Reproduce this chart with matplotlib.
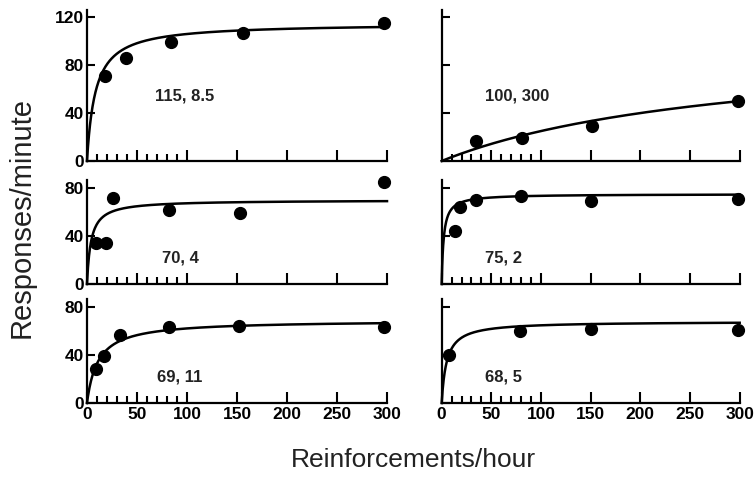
import numpy as np
import matplotlib
matplotlib.use("Agg")
import matplotlib.pyplot as plt

plt.rcParams['font.family'] = ['Liberation Sans', 'DejaVu Sans']

# Panel order: top-left, top-right, mid-left, mid-right, bottom-left, bottom-right
# fitted parameters (k, re) shown in each panel
k_vals = [115, 100, 70, 75, 69, 68]
re_vals = [8.5, 300, 4, 2, 11, 5]
labels = ["115, 8.5", "100, 300", "70, 4", "75, 2", "69, 11", "68, 5"]

# observed points (reinforcements/hour, responses/minute)
x_pts = [
    [18, 39, 84, 156, 297],
    [35, 81, 151, 298],
    [9, 19, 26, 82, 153, 297],
    [13, 18, 35, 80, 150, 298],
    [9, 17, 33, 82, 152, 297],
    [7, 79, 150, 298],
]
y_pts = [
    [71, 86, 99, 107, 115],
    [17, 19, 29, 50],
    [34, 34, 72, 62, 59, 85],
    [44, 64, 70, 73, 69, 71],
    [28, 39, 57, 63, 64, 63],
    [40, 60, 62, 61],
]
label_pos = [(98, 54), (76, 54), (93, 22), (62, 22), (93, 22), (62, 22)]

y_ticks_top = [0, 40, 80, 120]
y_ticks_low = [0, 40, 80]
x_ticks = [0, 50, 100, 150, 200, 250, 300]
x_minor = [10, 20, 30, 40, 60, 70, 80, 90]

fig = plt.figure(figsize=(7.55, 4.79), dpi=100)

col_left = [0.1152, 0.585]
col_width = [0.3974, 0.3947]
row_bottom = [0.6639, 0.4071, 0.1587]
row_height = [0.3152, 0.2171, 0.2171]
row_ylim = [126, 86.7, 86.7]

r = np.linspace(0, 300, 600)

for i in range(6):
    row, col = divmod(i, 2)
    ax = fig.add_axes([col_left[col], row_bottom[row], col_width[col], row_height[row]])

    # hyperbolic fit
    curve = k_vals[i] * r / (r + re_vals[i])
    ax.plot(r, curve, color='black', lw=1.8, clip_on=False, zorder=2)
    ax.plot(x_pts[i], y_pts[i], 'o', color='black', ms=8.5, clip_on=False, zorder=3)

    ax.text(label_pos[i][0], label_pos[i][1], labels[i], ha='center', va='center',
            fontsize=12, fontweight='bold', color='#222222')

    ax.set_xlim(0, 300)
    ax.set_ylim(0, row_ylim[row])

    for s in ['top', 'right']:
        ax.spines[s].set_visible(False)
    for s in ['left', 'bottom']:
        ax.spines[s].set_linewidth(1.6)

    ax.set_xticks(x_ticks)
    ax.set_xticks(x_minor, minor=True)
    ax.set_yticks(y_ticks_top if row == 0 else y_ticks_low)

    ax.tick_params(axis='x', which='major', direction='in', length=8, width=1.5, pad=3)
    ax.tick_params(axis='x', which='minor', direction='in', length=5, width=1.5)
    ax.tick_params(axis='y', which='major', direction='in', length=6, width=1.5, pad=2)
    ax.tick_params(labelsize=12.5)

    if row < 2:
        ax.set_xticklabels([])
    else:
        for t in ax.get_xticklabels():
            t.set_fontweight('bold')
    if col == 1:
        ax.set_yticklabels([])
    else:
        for t in ax.get_yticklabels():
            t.set_fontweight('bold')

fig.text(0.028, 0.545, "Responses/minute", rotation=90, ha='center', va='center',
         fontsize=21, color='#222222')
fig.text(0.5475, 0.04, "Reinforcements/hour", ha='center', va='center',
         fontsize=19, color='#222222')

fig.savefig("out.png", dpi=100)
